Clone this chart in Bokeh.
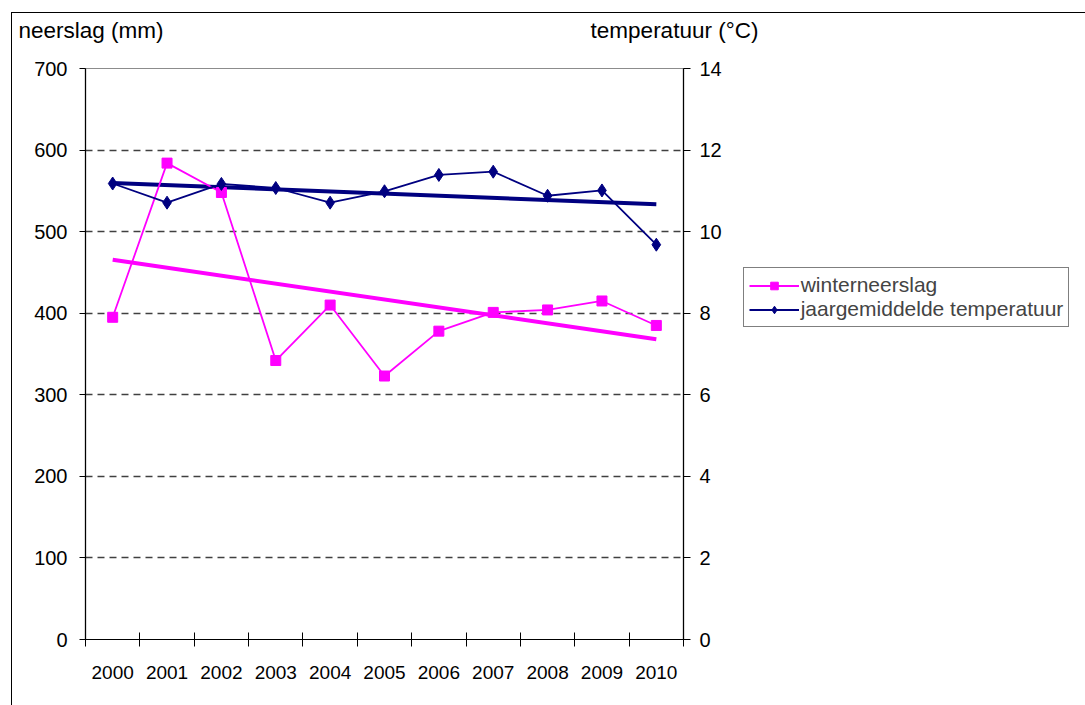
import numpy as np
from bokeh.plotting import figure
from bokeh.models import (Range1d, LinearAxis, FixedTicker, Legend, LegendItem, Grid)
from bokeh.embed import file_html
from bokeh.resources import INLINE

# Winter precipitation (mm) and mean annual temperature (°C), 2000-2010
years = ["2000", "2001", "2002", "2003", "2004", "2005", "2006", "2007", "2008", "2009", "2010"]
winterneerslag = [395, 584, 548, 342, 410, 323, 378, 401, 404, 415, 385]
temperatuur = [11.18, 10.71, 11.17, 11.07, 10.71, 10.99, 11.39, 11.47, 10.88, 11.01, 9.68]
neerslag_ticks = [0, 100, 200, 300, 400, 500, 600, 700]
temp_ticks = [0, 2, 4, 6, 8, 10, 12, 14]
axis_titles = ["neerslag (mm)", "temperatuur (°C)"]

FONT = "Liberation Sans"
PINK = "#FF00FF"
NAVY = "#000080"

n = len(years)
xc = [i + 0.5 for i in range(n)]          # category centres
edges = list(range(n + 1))                # category boundaries

FL, FW = 73, 598                          # frame left edge and width, canvas pixels
p = figure(frame_width=FW, frame_height=571, output_backend="svg", toolbar_location=None,
           x_range=Range1d(0, n), y_range=Range1d(0, 700),
           min_border_left=FL, min_border_right=402, min_border_top=55, min_border_bottom=66,
           x_axis_type=None, y_axis_type=None)
p.styles = {"margin-left": "11px", "margin-top": "12px",
            "border-left": "1px solid black", "border-top": "1px solid black"}
p.background_fill_color = "white"
p.border_fill_color = "white"
p.outline_line_color = "#8c8c8c"
p.outline_line_width = 1.2
p.extra_y_ranges = {"temp": Range1d(0, 14)}
# pixel-based range for the two axis titles above the frame
p.extra_x_ranges = {"px": Range1d(FL, FL + FW)}

# x axis: labels at category centres, tick marks at boundaries
xaxis = LinearAxis(ticker=FixedTicker(ticks=xc, minor_ticks=edges),
                   major_label_overrides={c: y for c, y in zip(xc, years)})
xaxis.major_tick_line_color = None
xaxis.major_tick_out = 0
xaxis.major_tick_in = 0
xaxis.minor_tick_line_color = "black"
xaxis.minor_tick_in = 7
xaxis.minor_tick_out = 7
xaxis.major_label_standoff = 19
p.add_layout(xaxis, "below")

yaxis = LinearAxis(ticker=FixedTicker(ticks=neerslag_ticks, minor_ticks=[]))
yaxis.major_tick_in = 0
yaxis.major_tick_out = 6
yaxis.major_label_standoff = 12
p.add_layout(yaxis, "left")

raxis = LinearAxis(y_range_name="temp", ticker=FixedTicker(ticks=temp_ticks, minor_ticks=[]))
raxis.major_tick_in = 0
raxis.major_tick_out = 7
raxis.major_label_standoff = 9
p.add_layout(raxis, "right")

for ax in (xaxis, yaxis, raxis):
    ax.axis_line_color = "black"
    ax.axis_line_width = 1.2
    ax.major_tick_line_width = 1
    ax.minor_tick_line_width = 1
    ax.major_label_text_font = FONT
    ax.major_label_text_font_size = "20px"
    ax.major_label_text_color = "black"
xaxis.major_label_text_font_size = "19px"

# axis titles drawn as labels of a line-less axis above the frame
title_pos = [90.5 - 12, 674 - 12]
taxis = LinearAxis(x_range_name="px", ticker=FixedTicker(ticks=title_pos, minor_ticks=[]),
                   major_label_overrides={t: s for t, s in zip(title_pos, axis_titles)})
taxis.axis_line_color = None
taxis.major_tick_line_color = None
taxis.major_tick_out = 0
taxis.major_tick_in = 0
taxis.major_label_standoff = 26
taxis.major_label_text_font = FONT
taxis.major_label_text_font_size = "22.5px"
taxis.major_label_text_color = "black"
p.add_layout(taxis, "above")

grid = Grid(dimension=1, ticker=FixedTicker(ticks=neerslag_ticks[1:-1], minor_ticks=[]))
grid.grid_line_color = "#404040"
grid.grid_line_dash = "7 5"
grid.grid_line_width = 1.3
p.add_layout(grid)

# trend lines (least squares)
xi = np.arange(n)
kw, bw = np.polyfit(xi, winterneerslag, 1)
kt, bt = np.polyfit(xi, temperatuur, 1)
p.line([xc[0], xc[-1]], [bw, bw + kw * (n - 1)], line_color=PINK, line_width=4)
p.line([xc[0], xc[-1]], [bt, bt + kt * (n - 1)], line_color=NAVY, line_width=4,
       y_range_name="temp")

# series
wl = p.line(xc, winterneerslag, line_color=PINK, line_width=1.8)
ws = p.scatter(xc, winterneerslag, marker="square", size=10, fill_color=PINK, line_color=PINK)
tl = p.line(xc, temperatuur, line_color=NAVY, line_width=1.8, y_range_name="temp")
ts = p.scatter(xc, temperatuur, marker="diamond", size=13,
               fill_color=NAVY, line_color=NAVY, y_range_name="temp")

legend = Legend(items=[LegendItem(label="winterneerslag", renderers=[wl, ws]),
                       LegendItem(label="jaargemiddelde temperatuur", renderers=[tl, ts])],
                location=(-207, 312))
legend.label_text_font = FONT
legend.label_text_font_size = "21px"
legend.label_height = 19
legend.glyph_height = 19
legend.glyph_width = 50
legend.label_standoff = 2
legend.spacing = 0
legend.padding = 5
legend.margin = 0
legend.border_line_color = "black"
legend.border_line_width = 1
legend.background_fill_color = "white"
legend.background_fill_alpha = 1
p.add_layout(legend, "right")

open("out.html", "w").write(file_html(p, INLINE))
